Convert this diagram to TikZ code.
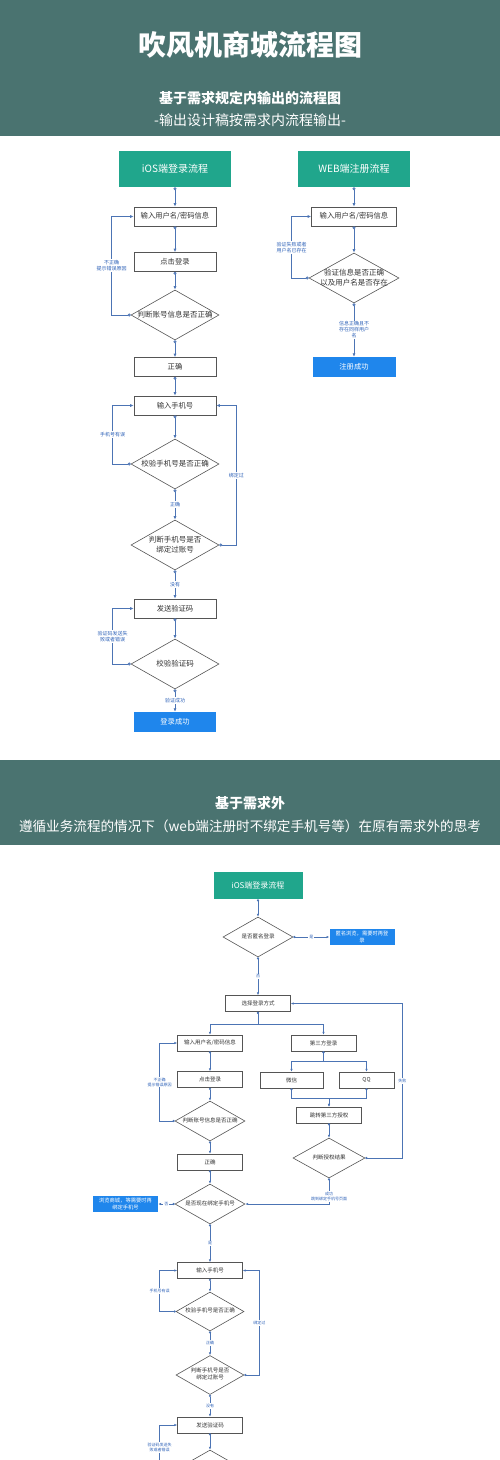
\documentclass[tikz,border=0pt]{standalone}
\usepackage{fontspec}
\setmainfont{Noto Sans CJK SC}
\usetikzlibrary{arrows.meta,positioning,shapes.geometric}

\definecolor{bandgreen}{HTML}{4A7370}
\definecolor{headteal}{HTML}{20A68C}
\definecolor{okblue}{HTML}{1F86EC}
\definecolor{linkblue}{HTML}{4C74B4}
\definecolor{notetext}{HTML}{2E62B8}
\definecolor{boxline}{HTML}{555555}

% diamond text that does not widen the diamond
\newcommand{\dlines}[1]{\makebox[0pt]{\begin{tabular}{@{}c@{}}#1\end{tabular}}}

\begin{document}
\begin{tikzpicture}[
x=1pt, y=-1pt,
headbox/.style={rectangle, fill=headteal, text=white, minimum width=112pt, minimum height=36pt, font=\fontsize{10}{12}\selectfont},
stepbox/.style={rectangle, draw=boxline, fill=white, line width=0.6pt, minimum width=82pt, minimum height=19pt, inner sep=1pt, align=center, text=black!80, font=\fontsize{7.3}{8.5}\selectfont},
decide/.style={diamond, draw=boxline, fill=white, line width=0.6pt, minimum width=88pt, minimum height=50pt, inner sep=0pt, text=black!80, font=\fontsize{7.5}{10}\selectfont},
donebox/.style={rectangle, fill=okblue, text=white, minimum width=82pt, minimum height=20pt, inner sep=1pt, align=center, font=\fontsize{7.3}{8.5}\selectfont},
small/.style={minimum width=65pt, minimum height=16pt, font=\fontsize{5.5}{7}\selectfont},
flow/.style={{Circle[open,length=3pt,width=3pt]}-{Latex[length=3.5pt,width=3pt]}, draw=linkblue, line width=0.8pt},
flowB/.style={{Circle[open,length=2.2pt,width=2.2pt]}-{Latex[length=2.8pt,width=2.4pt]}, draw=linkblue, line width=0.6pt},
note/.style={fill=white, text=notetext, inner sep=1pt, align=center, font=\fontsize{5}{6}\selectfont},
noteB/.style={note, font=\fontsize{4}{5}\selectfont}
]
\useasboundingbox (0,0) rectangle (500,1460);
\clip (0,0) rectangle (500,1460);

% header bands
\fill[bandgreen] (0,0) rectangle (500,136);
\fill[bandgreen] (0,760) rectangle (500,845);
\node[text=white, font=\fontsize{28}{32}\selectfont\bfseries] (title) at (250,45) {吹风机商城流程图};
\node[text=white, font=\fontsize{14}{16}\selectfont\bfseries] (subA) at (250,98) {基于需求规定内输出的流程图};
\node[text=white, font=\fontsize{14}{16}\selectfont] (subA2) at (250,120) {-输出设计稿按需求内流程输出-};
\node[text=white, font=\fontsize{14}{16}\selectfont\bfseries] (subB) at (250,803) {基于需求外};
\node[text=white, font=\fontsize{13.6}{16}\selectfont] (subB2) at (250,826) {遵循业务流程的情况下（web端注册时不绑定手机号等）在原有需求外的思考};

% iOS login, inside requirements
\node[headbox] (iosA) at (175,169) {iOS端登录流程};
\node[stepbox] (userA) at (175,216.5) {输入用户名/密码信息};
\node[stepbox] (clickA) at (175,262) {点击登录};
\node[decide] (checkA) at (175,315) {\dlines{判断账号信息是否正确}};
\node[stepbox] (rightA) at (175,367) {正确};
\node[stepbox] (phoneA) at (175,405.5) {输入手机号};
\node[decide] (pcheckA) at (175,464) {\dlines{校验手机号是否正确}};
\node[decide] (boundA) at (175,545) {\dlines{判断手机号是否\\绑定过账号}};
\node[stepbox] (sendA) at (175,608.5) {发送验证码};
\node[decide] (vcheckA) at (175,664) {\dlines{校验验证码}};
\node[donebox] (doneA) at (175,722) {登录成功};

\draw[flow] (iosA) -- (userA);
\draw[flow] (userA) -- (clickA);
\draw[flow] (clickA) -- (checkA);
\draw[flow] (checkA.west) -- ++(-19,0) |- node[note, pos=0.25] {不正确\\提示错误原因} (userA.west);
\draw[flow] (checkA) -- (rightA);
\draw[flow] (rightA) -- (phoneA);
\draw[flow] (phoneA) -- (pcheckA);
\draw[flow] (pcheckA.west) -- ++(-18,0) |- node[note, pos=0.25] {手机号有误} (phoneA.west);
\draw[flow] (pcheckA) -- node[note] {正确} (boundA);
\draw[flow] (boundA.east) -- ++(17,0) |- node[note, pos=0.25] {绑定过} (phoneA.east);
\draw[flow] (boundA) -- node[note] {没有} (sendA);
\draw[flow] (sendA) -- (vcheckA);
\draw[flow] (vcheckA.west) -- ++(-18,0) |- node[note, pos=0.25] {验证码发送失\\败或者错误} (sendA.west);
\draw[flow] (vcheckA) -- node[note] {验证成功} (doneA);

% WEB register
\node[headbox] (webA) at (354,169) {WEB端注册流程};
\node[stepbox, minimum width=85pt] (userW) at (354,216.5) {输入用户名/密码信息};
\node[decide, minimum width=90pt] (checkW) at (354,278) {\dlines{验证信息是否正确\\以及用户名是否存在}};
\node[donebox, minimum width=83pt] (doneW) at (354,367) {注册成功};

\draw[flow] (webA) -- (userW);
\draw[flow] (userW) -- (checkW);
\draw[flow] (checkW.west) -- ++(-17,0) |- node[note, pos=0.25] {验证失败或者\\用户名已存在} (userW.west);
\draw[flow] (checkW) -- node[note] {信息正确且不\\存在同样用户\\名} (doneW);

% iOS login, beyond requirements
\node[headbox, minimum width=89pt, minimum height=27pt, font=\fontsize{8}{9}\selectfont] (iosB) at (258,885.5) {iOS端登录流程};
\node[decide, small, minimum width=70pt, minimum height=40pt] (anonB) at (258,937) {\dlines{是否匿名登录}};
\node[donebox, small, font=\fontsize{5.3}{6.5}\selectfont] (anonDone) at (362,937) {匿名浏览，需要时再登\\录};
\node[stepbox, small] (chooseB) at (258,1003.5) {选择登录方式};
\node[stepbox, small] (userB) at (210,1043) {输入用户名/密码信息};
\node[stepbox, small] (thirdB) at (323.5,1043) {第三方登录};
\node[stepbox, small] (clickB) at (210,1079.5) {点击登录};
\node[decide, small, minimum width=70pt, minimum height=40pt] (checkB) at (210,1121) {\dlines{判断账号信息是否正确}};
\node[stepbox, small, minimum width=63pt] (wechatB) at (291.5,1080) {微信};
\node[stepbox, small, minimum width=55pt] (qqB) at (366.5,1080) {QQ};
\node[stepbox, small] (jumpB) at (329,1115) {跳转第三方授权};
\node[decide, small, minimum width=72pt, minimum height=40pt] (authB) at (329,1158) {\dlines{判断授权结果}};
\node[stepbox, small] (rightB) at (210,1162) {正确};
\node[decide, small, minimum width=70pt, minimum height=40pt] (bindB) at (210,1204) {\dlines{是否现在绑定手机号}};
\node[donebox, small, font=\fontsize{5.3}{6.5}\selectfont] (browseB) at (125.5,1204) {浏览商城，等需要时再\\绑定手机号};
\node[stepbox, small] (phoneB) at (210,1270.5) {输入手机号};
\node[decide, small, minimum width=68pt, minimum height=39pt] (pcheckB) at (210,1311.5) {\dlines{校验手机号是否正确}};
\node[decide, small, minimum width=68pt, minimum height=39pt] (boundB) at (210,1375) {\dlines{判断手机号是否\\绑定过账号}};
\node[stepbox, small] (sendB) at (210,1425) {发送验证码};
\node[decide, small, minimum width=70pt, minimum height=40pt] (vcheckB) at (210,1470) {};

\draw[flowB] (iosB) -- (anonB);
\draw[flowB] (anonB) -- node[noteB] {是} (anonDone);
\draw[flowB] (anonB) -- node[noteB] {否} (chooseB);
\draw[flowB] (chooseB.south) -- ++(0,12) -| (userB.north);
\draw[flowB] (chooseB.south) -- ++(0,12) -| (thirdB.north);
\draw[flowB] (userB) -- (clickB);
\draw[flowB] (clickB) -- (checkB);
\draw[flowB] (checkB.west) -- ++(-15,0) |- node[noteB, pos=0.25] {不正确\\提示错误原因} (userB.west);
\draw[flowB] (thirdB.south) -- ++(0,10) -| (wechatB.north);
\draw[flowB] (thirdB.south) -- ++(0,10) -| (qqB.north);
\draw[flowB] (wechatB.south) -- ++(0,10) -| (jumpB.north);
\draw[flowB] (qqB.south) -- ++(0,10) -| (jumpB.north);
\draw[flowB] (jumpB) -- (authB);
\draw[flowB] (authB.east) -- ++(37,0) |- node[noteB, pos=0.25] {失败} (chooseB.east);
\draw[flowB] (authB.south) |- node[noteB, pos=0.35] {成功\\跳到绑定手机号页面} (bindB.east);
\draw[flowB] (checkB) -- (rightB);
\draw[flowB] (rightB) -- (bindB);
\draw[flowB] (bindB) -- node[noteB] {否} (browseB);
\draw[flowB] (bindB) -- node[noteB] {是} (phoneB);
\draw[flowB] (phoneB) -- (pcheckB);
\draw[flowB] (pcheckB.west) -- ++(-16,0) |- node[noteB, pos=0.25] {手机号有误} (phoneB.west);
\draw[flowB] (pcheckB) -- node[noteB] {正确} (boundB);
\draw[flowB] (boundB.east) -- ++(15,0) |- node[noteB, pos=0.25] {绑定过} (phoneB.east);
\draw[flowB] (boundB) -- node[noteB] {没有} (sendB);
\draw[flowB] (sendB) -- (vcheckB);
\draw[flowB] (vcheckB.west) -- ++(-15,0) |- node[noteB, pos=0.25] {验证码发送失\\败或者错误} (sendB.west);
\end{tikzpicture}
\end{document}
